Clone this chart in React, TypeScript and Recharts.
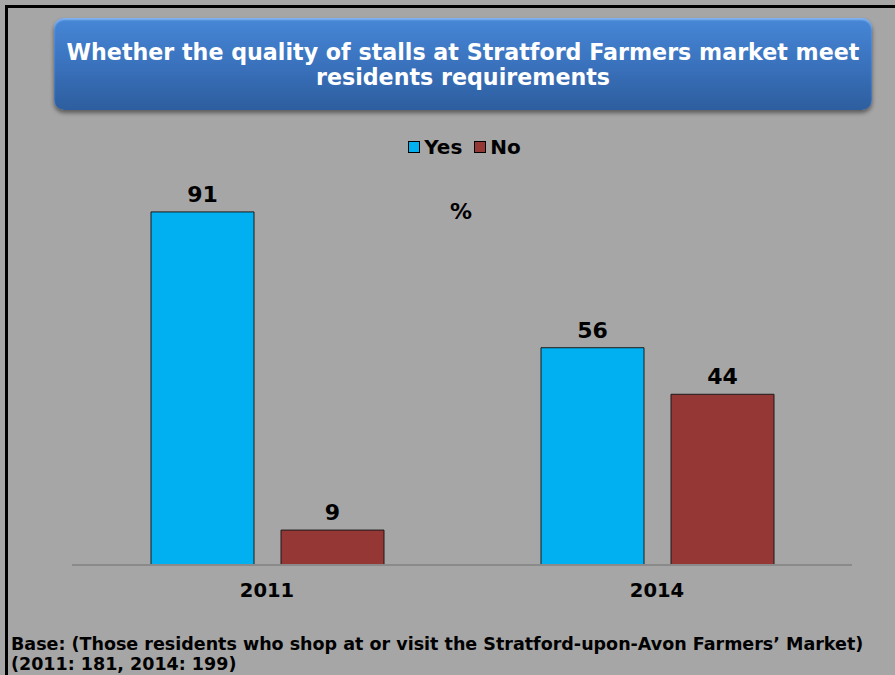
import React from 'react';
import { BarChart, Bar, XAxis, YAxis, LabelList } from 'recharts';

const years = ['2011', '2014'];
const yesValues = [91, 56];
const noValues = [9, 44];
const seriesNames = ['Yes', 'No'];
const seriesColors = ['#00b0f0', '#953735'];

const data = years.map((y, i) => ({ year: y, Yes: yesValues[i], No: noValues[i] }));

const FONT = '"DejaVu Sans", Verdana, sans-serif';
const BG = '#a6a6a6';

const labelStyle = { fill: '#000', fontWeight: 'bold', fontSize: 22, fontFamily: FONT };

export default function App() {
  return (
    <div style={{ position: 'absolute', left: 0, top: 0, width: 895, height: 675, background: BG, overflow: 'hidden', fontFamily: FONT }}>
      <div style={{ position: 'absolute', left: 5, top: 5, width: 900, height: 700, borderLeft: '3px solid #000', borderTop: '3px solid #000', boxSizing: 'border-box' }} />
      <div
        style={{
          position: 'absolute', left: 54, top: 18, width: 818, height: 92, borderRadius: 10,
          background: 'linear-gradient(#4687d6, #3a72bd 50%, #2d5e9f)',
          boxShadow: '0 3px 4px rgba(0,0,0,0.45), inset 0 2px 2px rgba(160,200,255,0.7)',
          color: '#fff', fontWeight: 'bold', fontSize: 22.2, textAlign: 'center', lineHeight: '25px',
          boxSizing: 'border-box', paddingTop: 22, whiteSpace: 'nowrap',
        }}
      >
        Whether the quality of stalls at Stratford Farmers market meet<br />residents requirements
      </div>
      {/* legend */}
      <div style={{ position: 'absolute', left: 17, top: 135, width: 895, display: 'flex', justifyContent: 'center', gap: 12, fontWeight: 'bold', fontSize: 20 }}>
        {seriesNames.map((n, i) => (
          <div key={n} style={{ display: 'flex', alignItems: 'center', gap: 4 }}>
            <span style={{ width: 10, height: 10, background: seriesColors[i], border: '1px solid #000', display: 'inline-block' }} />
            <span>{n}</span>
          </div>
        ))}
      </div>
      <div style={{ position: 'absolute', left: 450, top: 199, fontWeight: 'bold', fontSize: 22 }}>%</div>
      <div style={{ position: 'absolute', left: 0, top: 0 }}>
        <BarChart width={895} height={675} data={data} margin={{ top: 177, right: 43, bottom: 80, left: 72 }} barGap={27} barSize={103}>
          <YAxis hide domain={[0, 100]} />
          <XAxis
            dataKey="year"
            height={30}
            axisLine={{ stroke: '#8a8a8a', strokeWidth: 2 }}
            tickLine={false}
            tick={{ fill: '#000', fontWeight: 'bold', fontSize: 19.5, fontFamily: FONT }}
            dy={10}
          />
          {seriesNames.map((n, i) => (
            <Bar key={n} dataKey={n} fill={seriesColors[i]} stroke="#1a1a1a" strokeWidth={1} isAnimationActive={false}>
              <LabelList dataKey={n} position="top" offset={10} style={labelStyle} />
            </Bar>
          ))}
        </BarChart>
      </div>
      <div style={{ position: 'absolute', left: 11, top: 634, fontWeight: 'bold', fontSize: 17.5, lineHeight: '20px', whiteSpace: 'nowrap' }}>
        Base: (Those residents who shop at or visit the Stratford-upon-Avon Farmers’ Market)<br />(2011: 181, 2014: 199)
      </div>
    </div>
  );
}
